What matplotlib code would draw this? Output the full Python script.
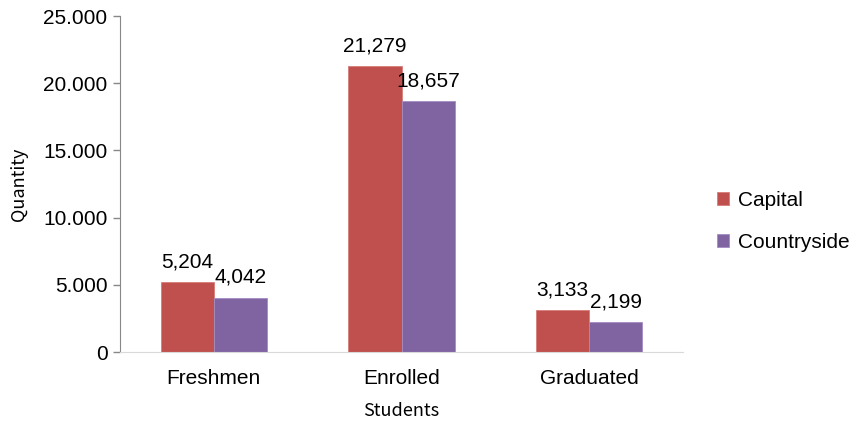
import numpy as np
import matplotlib.pyplot as plt

categories = ['Freshmen', 'Enrolled', 'Graduated']
capital = [5204, 21279, 3133]
countryside = [4042, 18657, 2199]

plt.rcParams['font.family'] = ['Liberation Sans', 'DejaVu Sans']

fig = plt.figure(figsize=(8.56, 4.21), dpi=100)
ax = fig.add_axes([120 / 856, 1 - 352 / 421, 563 / 856, 336 / 421])

x = np.arange(len(categories))
w = 0.283
b1 = ax.bar(x - w / 2, capital, w, color='#c0504d', edgecolor='#d77c79', linewidth=0.6, label='Capital')
b2 = ax.bar(x + w / 2, countryside, w, color='#8064a2', edgecolor='#a48bc2', linewidth=0.6, label='Countryside')

for bars, vals in ((b1, capital), (b2, countryside)):
    for r, v in zip(bars, vals):
        ax.text(r.get_x() + r.get_width() / 2, v + 800, f'{v:,}', ha='center', va='bottom', fontsize=15)

ax.set_xlim(-0.5, 2.5)
ax.set_ylim(0, 25000)
ax.set_yticks(range(0, 25001, 5000))
ax.set_yticklabels(['0'] + [f'{v // 1000}.000' for v in range(5000, 25001, 5000)], fontsize=15)
ax.set_xticks(x)
ax.set_xticklabels(categories, fontsize=15)
ax.tick_params(axis='x', length=0, pad=12)
ax.tick_params(axis='y', length=5, color='#888888', width=1, pad=4)

for s in ('top', 'right'):
    ax.spines[s].set_visible(False)
ax.spines['left'].set_color('#888888')
ax.spines['bottom'].set_color('#d9d9d9')

ax.set_ylabel('Quantity', fontsize=13, family=['Noto Sans CJK KR', 'DejaVu Sans'], labelpad=11)
ax.set_xlabel('Students', fontsize=13, family=['Noto Sans CJK KR', 'DejaVu Sans'], labelpad=10)

fig.legend(loc='upper left', bbox_to_anchor=(698 / 856, 1 - 172 / 421), frameon=False,
           fontsize=15, handlelength=0.6, handleheight=0.6, handletextpad=0.4, labelspacing=1.1)

fig.savefig('out.png', dpi=100)
